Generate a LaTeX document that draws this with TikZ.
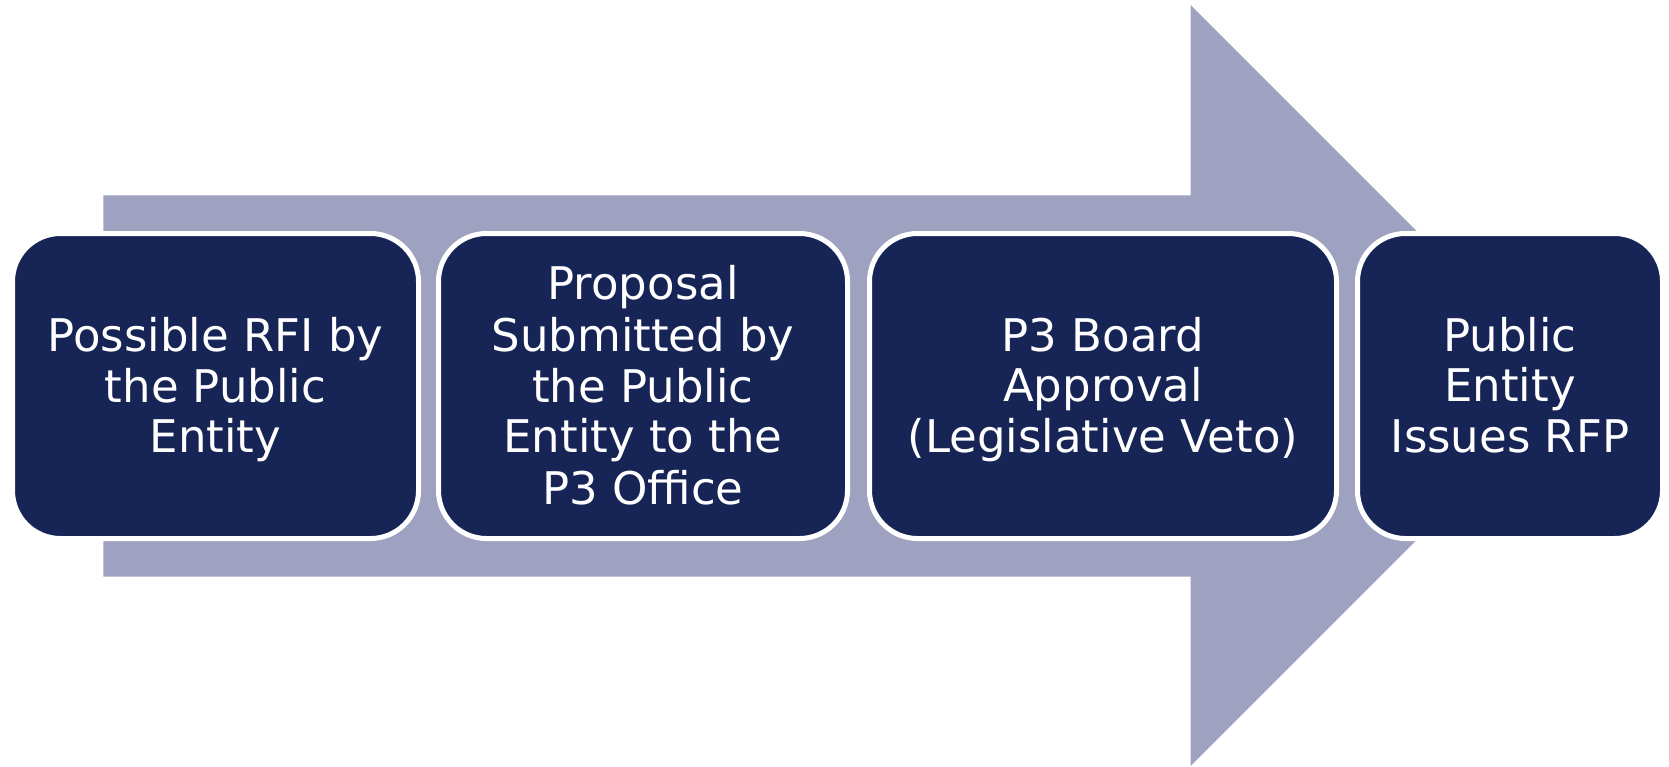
\documentclass[tikz,border=0pt]{standalone}
\usepackage{fontspec}
\setmainfont{DejaVu Sans}
\definecolor{navy}{RGB}{22,36,86}
\definecolor{arrowgray}{RGB}{158,162,192}
\newcommand{\lnstrut}{\rule[-9pt]{0pt}{50pt}}
\begin{document}
\begin{tikzpicture}[x=1pt,y=-1pt,
  stepbox/.style={draw=white, line width=5pt, fill=navy, rounded corners=48pt,
    text=white, align=center, inner sep=0pt, minimum height=305pt,
    font=\fontsize{45}{50}\selectfont}]
\useasboundingbox (0,0) rectangle (1669,766);
\fill[arrowgray] (103.3,195.3) -- (1190.7,195.3) -- (1190.7,5) -- (1571,385.5)
  -- (1190.7,766) -- (1190.7,576.7) -- (103.3,576.7) -- cycle;
\node[stepbox, minimum width=406pt] (b1) at (215.5,386) {\lnstrut Possible RFI by\\\lnstrut the Public\\\lnstrut Entity};
\node[stepbox, minimum width=409pt] (b2) at (643,386) {\lnstrut Proposal\\\lnstrut Submitted by\\\lnstrut the Public\\\lnstrut Entity to the\\\lnstrut P3 Office};
\node[stepbox, minimum width=467pt] (b3) at (1103,386) {\lnstrut P3 Board\\\lnstrut Approval\\\lnstrut (Legislative Veto)};
\node[stepbox, minimum width=305pt] (b4) at (1510,386) {\lnstrut Public\\\lnstrut Entity\\\lnstrut Issues RFP};
\end{tikzpicture}
\end{document}
